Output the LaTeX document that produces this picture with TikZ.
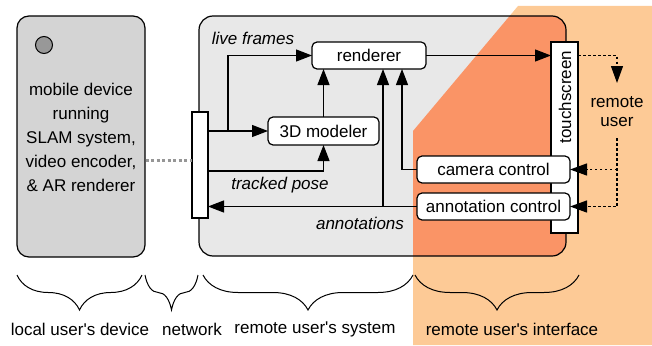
\documentclass[tikz,border=0pt]{standalone}
\usepackage{fontspec}
\setmainfont{Liberation Sans}
\usetikzlibrary{arrows.meta,decorations.pathreplacing}
\definecolor{lorange}{RGB}{253,202,150}
\definecolor{dorange}{RGB}{250,148,102}
\definecolor{boxgray}{RGB}{232,232,232}
\definecolor{devgray}{RGB}{212,212,212}
\definecolor{dotgray}{RGB}{150,150,150}
\begin{document}
\begin{tikzpicture}[x=1pt,y=-1pt,font=\fontsize{17}{24}\selectfont,
  box/.style={draw,line width=1.2pt,fill=white,rounded corners=5pt,inner sep=0pt,outer sep=0pt},
  bar/.style={draw,line width=1.2pt,fill=white,inner sep=0pt,outer sep=0pt},
  conn/.style={line width=1.2pt,-{Triangle[length=16pt,width=12pt]}},
  dconn/.style={line width=1.2pt,dash pattern=on 2.5pt off 2.5pt,-{Triangle[length=17pt,width=12pt]}},
  lab/.style={font=\fontsize{17}{24}\selectfont\itshape,inner sep=0pt},
  brc/.style={line width=1pt,decorate,decoration={brace,amplitude=35pt,aspect=0.5}},
  blab/.style={inner sep=0pt}]
\useasboundingbox (0,0) rectangle (652,345);
% light orange area
\fill[lorange] (518,6) -- (652,6) -- (652,345) -- (413,345) -- (413,131) -- cycle;
% remote system box
\fill[boxgray,rounded corners=14pt] (199,16) rectangle (566,256);
\begin{scope}
  \clip[rounded corners=14pt] (199,16) rectangle (566,256);
  \fill[dorange] (518,6) -- (652,6) -- (652,345) -- (413,345) -- (413,131) -- cycle;
\end{scope}
\draw[line width=1.2pt,rounded corners=14pt] (199,16) rectangle (566,256);
% mobile device
\node[draw,line width=1.2pt,fill=devgray,rounded corners=12pt,minimum width=128pt,minimum height=241pt,inner sep=0pt] (dev) at (81,136.5) {};
\node[draw,line width=1pt,fill=gray!85!black!70,circle,minimum size=17pt,inner sep=0pt] (cam0) at (44,45) {};
\node[align=center,inner sep=0pt] (devtext) at (81,137) {mobile device\\running\\SLAM system,\\video encoder,\\\& AR renderer};
% nodes
\node[bar,minimum width=16pt,minimum height=106pt] (netbar) at (200,165) {};
\node[bar,minimum width=27pt,minimum height=191pt] (ts) at (564.5,137.5) {};
\node[rotate=90,inner sep=0pt] (tslabel) at (565,97) {touchscreen};
\node[box,minimum width=114pt,minimum height=27pt] (rend) at (369,55.5) {renderer};
\node[box,minimum width=111pt,minimum height=28pt] (mod) at (323.5,131) {3D modeler};
\node[box,minimum width=153pt,minimum height=27pt] (camc) at (493.5,169.5) {camera control};
\node[box,minimum width=153pt,minimum height=27pt] (annc) at (493.5,206.5) {annotation control};
\node[align=center,inner sep=0pt,font=\fontsize{17}{19}\selectfont] (ru) at (617,111.5) {remote\\user};
% coordinates
\coordinate (lfsplit) at (208,131);
\coordinate (lfcorner) at (228,131);
\coordinate (tpstart) at (208,171);
\coordinate (annjoin) at (383,206.5);
\coordinate (camjoin) at (402,169.5);
\coordinate (rutop) at (617,83);
\coordinate (rubot) at (617,138);
% connectors
\draw[conn] (lfsplit) -- (mod.west);
\draw[conn] (lfsplit) -- (lfcorner) |- (rend.west);
\draw[conn] (tpstart) -| (mod.south);
\draw[conn] (mod.north) -- (mod.north |- rend.south);
\draw[conn] (annc.west) -- (annc.west -| netbar.east);
\draw[conn] (annjoin) -- (annjoin |- rend.south);
\draw[conn] (camc.west) -- (camjoin) -- (camjoin |- rend.south);
\draw[conn] (rend.east) -- (rend.east -| ts.west);
\draw[dconn] (rend.east -| ts.east) -| (rutop);
\draw[dconn] (rubot) |- (annc.east);
\draw[dconn] (rubot |- camc.east) -- (camc.east);
\draw[dotgray,line width=3pt,dash pattern=on 3pt off 2.5pt] (dev.east |- 0,160) -- (netbar.west |- 0,160);
% labels
\node[lab] (lf) at (253,38) {live frames};
\node[lab] (tp) at (280,185) {tracked pose};
\node[lab] (an) at (360,223) {annotations};
% braces
\draw[brc] (142,275) -- (17,275);
\draw[brc] (198,275) -- (145,275);
\draw[brc] (413,275) -- (203,275);
\draw[brc] (579,275) -- (415,275);
\node[blab] (b1) at (80,329) {local user\textquotesingle s device};
\node[blab] (b2) at (192,329) {network};
\node[blab] (b3) at (315,329) {remote user\textquotesingle s system};
\node[blab] (b4) at (512,329) {remote user\textquotesingle s interface};
\end{tikzpicture}
\end{document}
